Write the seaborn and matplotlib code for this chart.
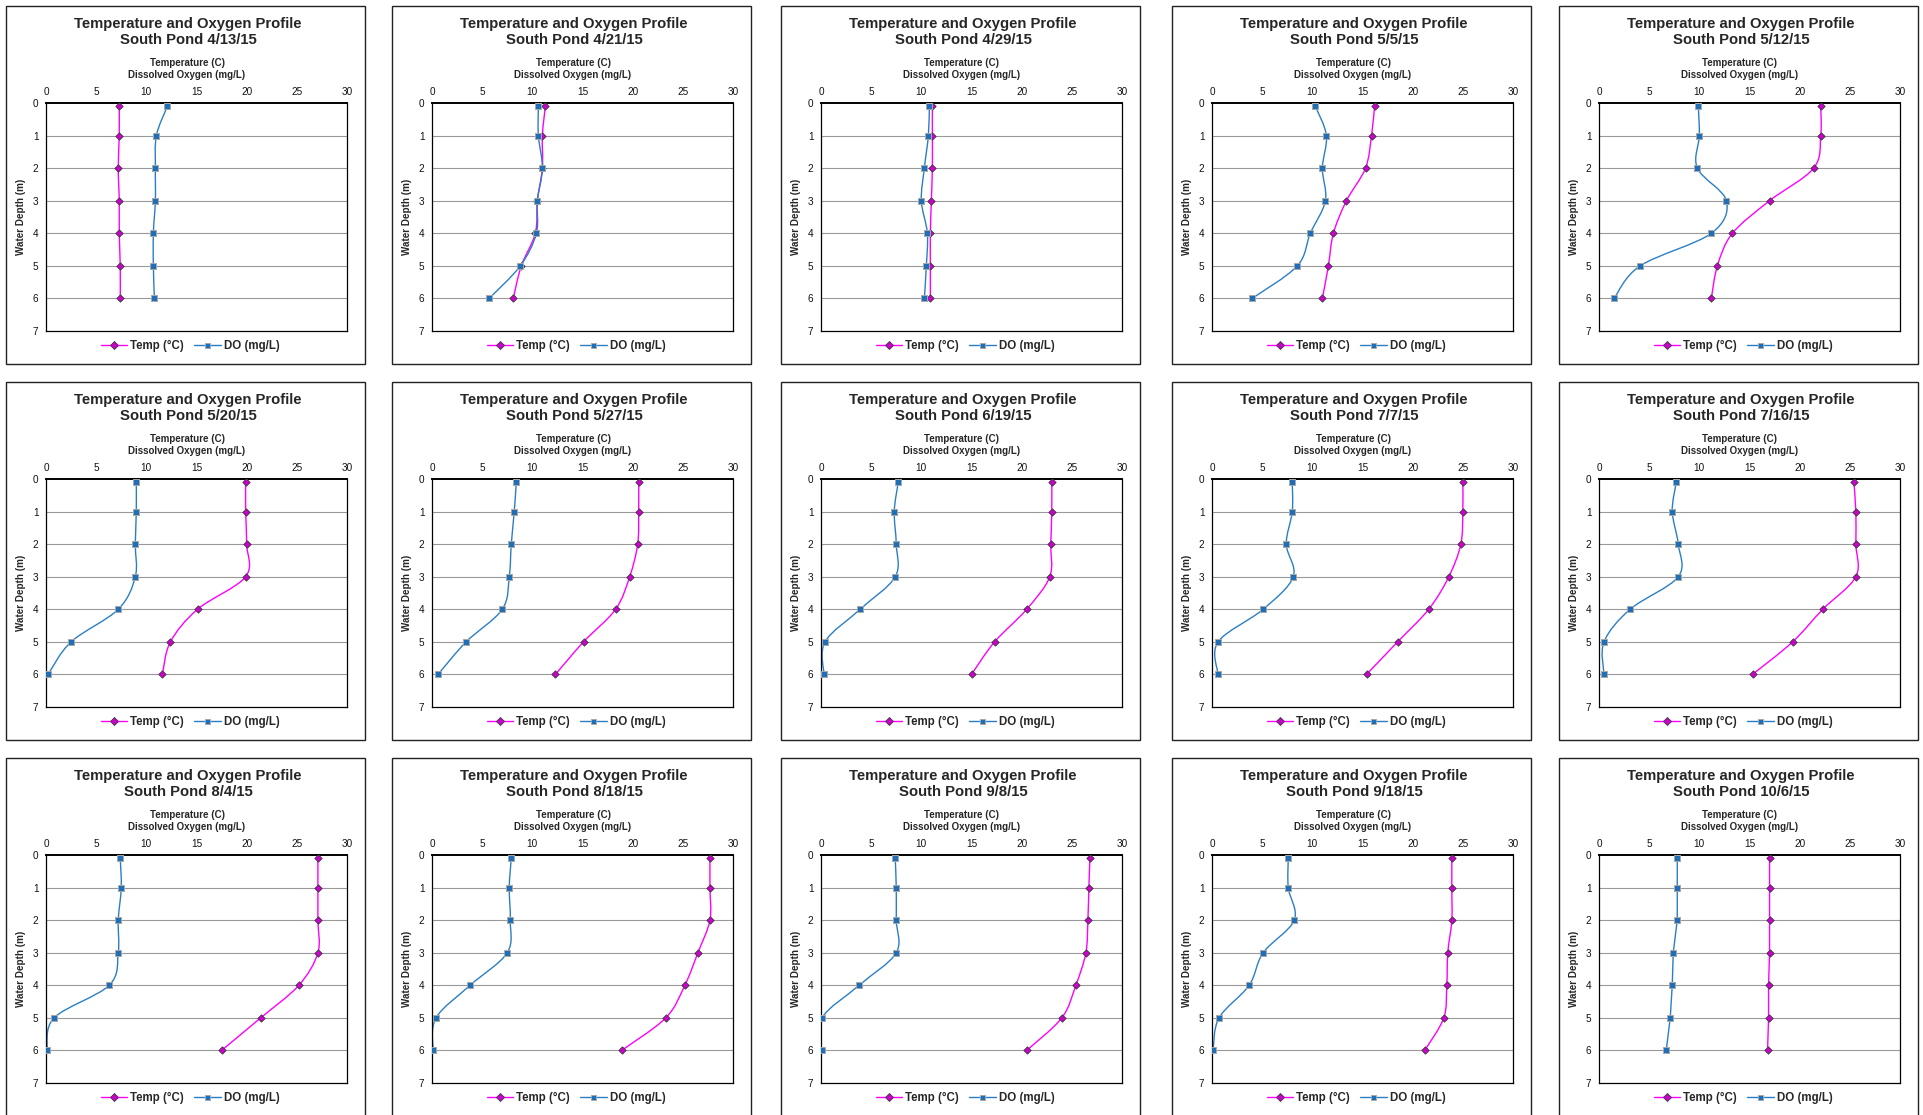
import numpy as np
import matplotlib
matplotlib.use("Agg")
import matplotlib.pyplot as plt
import seaborn as sns
from matplotlib.path import Path
from matplotlib.patches import PathPatch, Rectangle
from matplotlib.lines import Line2D

# ---------------- data ----------------
dates = ["4/13/15", "4/21/15", "4/29/15", "5/5/15", "5/12/15",
         "5/20/15", "5/27/15", "6/19/15", "7/7/15", "7/16/15",
         "8/4/15", "8/18/15", "9/8/15", "9/18/15", "10/6/15"]
depths = [0.1, 1, 2, 3, 4, 5, 6]

temp_0413 = [7.3, 7.3, 7.2, 7.3, 7.3, 7.4, 7.4]
do_0413 = [12.1, 11.0, 10.9, 10.9, 10.7, 10.7, 10.8]
temp_0421 = [11.3, 11.0, 11.0, 10.5, 10.3, 8.9, 8.1]
do_0421 = [10.6, 10.6, 11.0, 10.5, 10.4, 8.8, 5.7]
temp_0429 = [11.1, 11.1, 11.1, 11.0, 10.9, 10.9, 10.9]
do_0429 = [10.8, 10.7, 10.3, 10.0, 10.6, 10.5, 10.3]
temp_0505 = [16.2, 15.9, 15.3, 13.4, 12.1, 11.6, 11.0]
do_0505 = [10.3, 11.4, 11.0, 11.3, 9.8, 8.5, 4.0]
temp_0512 = [22.1, 22.1, 21.4, 17.0, 13.3, 11.8, 11.2]
do_0512 = [9.9, 10.0, 9.8, 12.7, 11.2, 4.1, 1.5]
temp_0520 = [19.9, 19.9, 20.0, 19.9, 15.1, 12.4, 11.6]
do_0520 = [9.0, 9.0, 8.9, 8.9, 7.2, 2.5, 0.2]
temp_0527 = [20.6, 20.6, 20.5, 19.7, 18.3, 15.1, 12.3]
do_0527 = [8.4, 8.2, 7.9, 7.7, 7.0, 3.4, 0.6]
temp_0619 = [23.0, 23.0, 22.9, 22.8, 20.5, 17.3, 15.0]
do_0619 = [7.7, 7.3, 7.5, 7.4, 3.9, 0.4, 0.3]
temp_0707 = [25.0, 25.0, 24.8, 23.6, 21.6, 18.5, 15.4]
do_0707 = [8.0, 8.0, 7.4, 8.1, 5.1, 0.6, 0.6]
temp_0716 = [25.4, 25.6, 25.6, 25.6, 22.3, 19.3, 15.3]
do_0716 = [7.7, 7.3, 7.9, 7.9, 3.1, 0.5, 0.5]
temp_0804 = [27.1, 27.1, 27.1, 27.1, 25.2, 21.4, 17.5]
do_0804 = [7.4, 7.5, 7.2, 7.2, 6.3, 0.8, 0.1]
temp_0818 = [27.7, 27.7, 27.7, 26.5, 25.2, 23.3, 18.9]
do_0818 = [7.9, 7.7, 7.8, 7.5, 3.8, 0.4, 0.1]
temp_0908 = [26.8, 26.7, 26.6, 26.4, 25.4, 24.0, 20.5]
do_0908 = [7.4, 7.5, 7.5, 7.5, 3.8, 0.1, 0.05]
temp_0918 = [23.9, 23.9, 23.9, 23.5, 23.4, 23.1, 21.2]
do_0918 = [7.6, 7.6, 8.2, 5.1, 3.7, 0.7, 0.1]
temp_1006 = [17.0, 17.0, 17.0, 17.0, 16.9, 16.9, 16.8]
do_1006 = [7.8, 7.8, 7.8, 7.4, 7.3, 7.1, 6.7]

temps = [temp_0413, temp_0421, temp_0429, temp_0505, temp_0512,
         temp_0520, temp_0527, temp_0619, temp_0707, temp_0716,
         temp_0804, temp_0818, temp_0908, temp_0918, temp_1006]
dos = [do_0413, do_0421, do_0429, do_0505, do_0512,
       do_0520, do_0527, do_0619, do_0707, do_0716,
       do_0804, do_0818, do_0908, do_0918, do_1006]
smooth = [True] * 14 + [False]

x_ticks = [0, 5, 10, 15, 20, 25, 30]
y_ticks = [0, 1, 2, 3, 4, 5, 6, 7]

# ---------------- style ----------------
sns.set_style("white")
plt.rcParams["font.family"] = ["Liberation Sans", "DejaVu Sans"]

TEMP_LINE = "#FF00FF"
TEMP_FACE = "#CC00CC"
TEMP_EDGE = "#3A3A3A"
DO_LINE = "#2A7FC4"
DO_FACE = "#1F6FB8"
DO_EDGE = "#A8A8A8"

W, H = 1923, 1115
fig = plt.figure(figsize=(W / 100, H / 100), dpi=100)
fig.patch.set_facecolor("white")


def fx(px):
    return px / W


def fy(py):
    return 1 - py / H


def curve_path(xs, ys, smooth_it):
    pts = np.column_stack([xs, ys]).astype(float)
    n = len(pts)
    verts = [pts[0]]
    codes = [Path.MOVETO]
    for i in range(n - 1):
        if smooth_it:
            p0 = pts[i - 1] if i > 0 else pts[i]
            p1 = pts[i]
            p2 = pts[i + 1]
            p3 = pts[i + 2] if i + 2 < n else pts[i + 1]
            c1 = p1 + (p2 - p0) / 6.0
            c2 = p2 - (p3 - p1) / 6.0
            verts += [c1, c2, p2]
            codes += [Path.CURVE4] * 3
        else:
            verts.append(pts[i + 1])
            codes.append(Path.LINETO)
    return Path(verts, codes)


col_x = [6, 392, 781, 1172, 1559]
row_y = [6, 382, 758]
BOX_W, BOX_H = 359, 358

for k, date in enumerate(dates):
    bx = col_x[k % 5]
    by = row_y[k // 5]

    fig.add_artist(Rectangle((fx(bx), fy(by + BOX_H)), BOX_W / W, BOX_H / H,
                             transform=fig.transFigure, fill=False,
                             edgecolor="#222222", linewidth=1.0, zorder=0))

    ax = fig.add_axes([fx(bx + 40), fy(by + 97 + 228), 301 / W, 228 / H])
    ax.set_xlim(0, 30)
    ax.set_ylim(7, 0)
    ax.set_xticks(x_ticks)
    ax.set_yticks(y_ticks)
    ax.xaxis.tick_top()
    ax.tick_params(axis="x", length=0, labelsize=7.2, pad=4.4, colors="#111111")
    ax.tick_params(axis="y", length=0, labelsize=7.2, pad=5.4, colors="#111111")
    for yy in y_ticks[1:-1]:
        ax.axhline(yy, color="#999999", linewidth=0.8, zorder=1)
    for side, sp in ax.spines.items():
        sp.set_color("#000000")
        sp.set_linewidth(0.9)
    ax.spines["top"].set_linewidth(1.4)

    t = temps[k]
    d = dos[k]
    ax.add_patch(PathPatch(curve_path(t, depths, smooth[k]), fill=False,
                           edgecolor=TEMP_LINE, linewidth=1.0, zorder=2))
    ax.add_patch(PathPatch(curve_path(d, depths, smooth[k]), fill=False,
                           edgecolor=DO_LINE, linewidth=1.0, zorder=2))
    sns.scatterplot(x=t, y=depths, marker="D", s=14, color=TEMP_FACE,
                    edgecolor=TEMP_EDGE, linewidth=0.6, ax=ax, zorder=3,
                    legend=False)
    sns.scatterplot(x=d, y=depths, marker="s", s=13, color=DO_FACE,
                    edgecolor=DO_EDGE, linewidth=0.7, ax=ax, zorder=3,
                    legend=False)
    ax.set_xlabel("")
    ax.set_ylabel("")

    fig.text(fx(bx + 182), fy(by + 26),
             f"Temperature and Oxygen Profile\nSouth Pond {date}",
             ha="center", va="center", fontsize=10.7, fontweight="bold",
             linespacing=1.13)
    fig.text(fx(bx + 181), fy(by + 63),
             "Temperature (C)\nDissolved Oxygen (mg/L)",
             ha="center", va="center", fontsize=7.0, fontweight="bold",
             linespacing=1.25)
    fig.text(fx(bx + 15), fy(by + 97 + 114), "Water Depth (m)",
             ha="center", va="center", rotation=90, fontsize=7.1,
             fontweight="bold")

    handles = [
        Line2D([], [], color=TEMP_LINE, linewidth=1.0, marker="D",
               markersize=3.8, markerfacecolor=TEMP_FACE,
               markeredgecolor=TEMP_EDGE, markeredgewidth=0.6),
        Line2D([], [], color=DO_LINE, linewidth=1.0, marker="s",
               markersize=3.6, markerfacecolor=DO_FACE,
               markeredgecolor=DO_EDGE, markeredgewidth=0.7),
    ]
    ax.legend(handles, ["Temp (°C)", "DO (mg/L)"], loc="center",
              bbox_to_anchor=(fx(bx + 184), fy(by + 340)),
              bbox_transform=fig.transFigure, ncol=2, frameon=False,
              prop={"weight": "bold", "size": 8.3}, handlelength=2.3,
              handletextpad=0.25, columnspacing=0.9, borderpad=0.0)

fig.savefig("out.png", dpi=100, facecolor="white")
